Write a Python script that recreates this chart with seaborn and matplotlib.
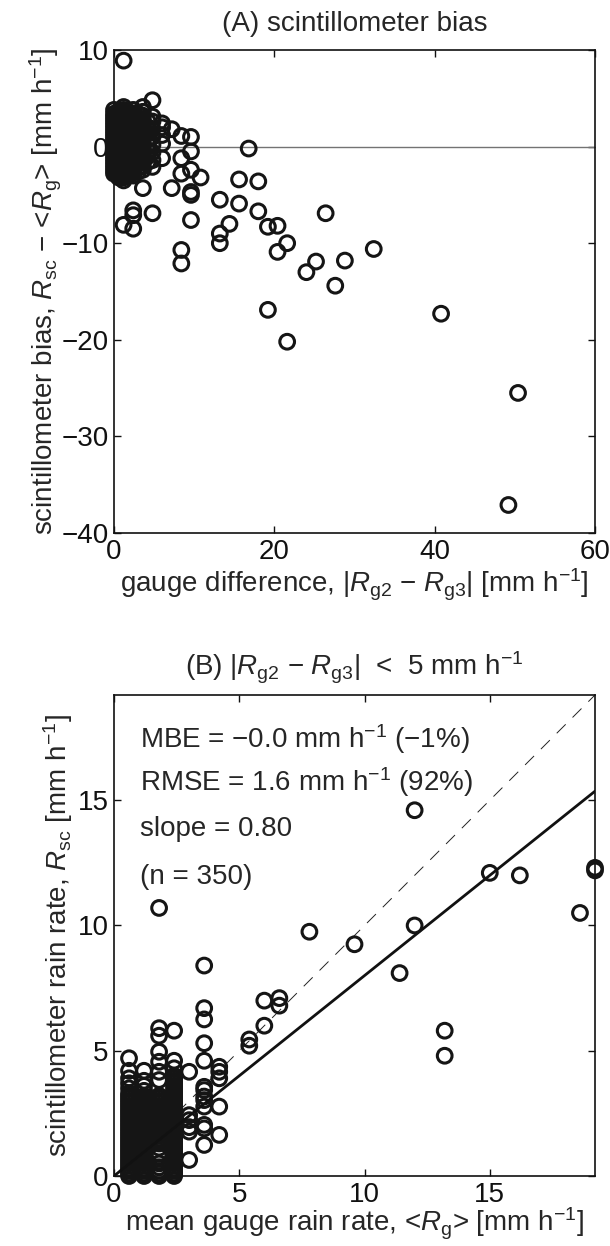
import numpy as np
import pandas as pd
import matplotlib
matplotlib.use("Agg")
import matplotlib.pyplot as plt
import seaborn as sns

# ---------------- data ----------------
# Panel A: gauge difference |Rg2 - Rg3| (quantised, mm/h) and scintillometer bias
bias_x_levels = [0.0, 0.6, 1.2, 1.8, 2.4, 3.0, 3.6, 4.2, 4.8, 6.0, 7.2, 8.4,
                 9.6, 10.8, 13.2, 14.4, 15.6, 16.8, 18.0, 19.2, 20.4, 21.6,
                 24.0, 25.2, 26.4, 27.6, 28.8, 32.4, 40.8, 49.2, 50.4]
bias_y_values = [
    [-2.8, -2.5, -2.2, -1.9, -1.6, -1.3, -1.0, -0.7, -0.4, -0.2, 0.0, 0.2, 0.4,
     0.7, 1.0, 1.3, 1.6, 1.9, 2.2, 2.5, 2.8, 3.1, 3.4, 3.8],
    [-3.2, -2.9, -2.6, -2.3, -2.0, -1.7, -1.4, -1.1, -0.8, -0.5, -0.2, 0.1,
     0.4, 0.7, 1.0, 1.3, 1.6, 1.9, 2.2, 2.5, 2.8, 3.1, 3.4, 3.7],
    [-3.5, -3.2, -2.9, -2.6, -2.3, -2.0, -1.7, -1.4, -1.1, -0.8, -0.5, -0.3,
     -0.1, 0.1, 0.3, 0.5, 0.8, 1.1, 1.4, 1.7, 2.0, 2.3, 2.6, 2.9, 3.2, 3.5,
     3.8, 4.1, 8.9, -8.1],
    [-3.0, -2.7, -2.4, -2.1, -1.8, -1.5, -1.2, -0.9, -0.6, -0.3, 0.0, 0.3,
     0.6, 0.9, 1.2, 1.5, 1.8, 2.1, 2.4, 2.7, 3.0, 3.3, 3.6],
    [-3.0, -2.7, -2.4, -2.1, -1.8, -1.5, -1.2, -0.9, -0.6, -0.3, 0.0, 0.3,
     0.6, 0.9, 1.2, 1.5, 1.8, 2.1, 2.4, 2.7, 3.0, 3.4, 3.8, -6.6, -7.1, -8.5],
    [-2.6, -2.2, -1.8, -1.4, -1.0, -0.6, -0.2, 0.2, 0.6, 1.0, 1.4, 1.8, 2.2,
     2.6, 3.0, 3.4],
    [-2.4, -2.0, -1.6, -1.2, -0.8, -0.4, 0.0, 0.4, 0.8, 1.2, 1.6, 2.0, 2.4,
     2.8, 3.2, 3.6, 4.1, -4.3],
    [-1.6, -1.0, -0.4, 0.2, 0.8, 1.4, 2.0, 2.6],
    [4.8, 3.1, 2.6, 1.8, 1.0, 0.2, -0.6, -1.4, -2.1, -6.9],
    [2.4, 2.0, 1.2, 0.3, -1.2],
    [1.8, -4.3],
    [1.1, -1.2, -2.8, -10.7, -12.1],
    [1.0, -0.5, -2.4, -4.7, -5.0, -7.6],
    [-3.2],
    [-5.5, -9.0, -10.0],
    [-8.0],
    [-3.4, -5.9],
    [-0.2],
    [-3.6, -6.7],
    [-8.3, -16.9],
    [-8.2, -10.9],
    [-10.0, -20.2],
    [-13.0],
    [-11.9],
    [-6.9],
    [-14.4],
    [-11.8],
    [-10.6],
    [-17.3],
    [-37.1],
    [-25.5],
]

# Panel B: mean gauge rain rate <Rg> (quantised) and scintillometer rain rate Rsc
rate_x_levels = [0.6, 1.2, 1.8, 2.4, 3.0, 3.6, 4.2, 5.4, 6.0, 6.6, 7.8, 9.6,
                 11.4, 12.0, 13.2, 15.0, 16.2, 18.6, 19.2]
rate_y_values = [
    [0.0, 0.1, 0.2, 0.3, 0.4, 0.5, 0.6, 0.7, 0.8, 0.9, 1.0, 1.1, 1.2, 1.3,
     1.4, 1.5, 1.6, 1.7, 1.8, 1.9, 2.0, 2.1, 2.2, 2.3, 2.4, 2.5, 2.6, 2.7,
     2.8, 2.9, 3.0, 3.1, 3.2, 3.3, 3.5, 3.7, 3.9, 4.2, 4.7],
    [0.0, 0.1, 0.2, 0.3, 0.4, 0.5, 0.6, 0.7, 0.8, 0.9, 1.0, 1.1, 1.2, 1.3,
     1.4, 1.5, 1.6, 1.7, 1.8, 1.9, 2.0, 2.1, 2.2, 2.3, 2.4, 2.5, 2.6, 2.7,
     2.8, 2.9, 3.0, 3.1, 3.2, 3.4, 3.6, 3.8, 4.2],
    [0.0, 0.1, 0.2, 0.35, 0.5, 0.77, 0.9, 1.13, 1.3, 1.4, 1.5, 1.6, 1.7, 1.8,
     1.9, 2.0, 2.1, 2.2, 2.3, 2.4, 2.5, 2.6, 2.7, 2.8, 2.9, 3.0, 3.1, 3.2,
     3.83, 4.16, 4.56, 4.96, 5.6, 5.9, 10.7],
    [0.0, 0.1, 0.2, 0.3, 0.4, 0.5, 0.6, 0.7, 0.8, 0.9, 1.0, 1.1, 1.2, 1.3,
     1.4, 1.5, 1.6, 1.7, 1.8, 1.9, 2.0, 2.1, 2.2, 2.3, 2.4, 2.5, 2.6, 2.7,
     2.8, 2.9, 3.0, 3.1, 3.2, 3.3, 3.4, 3.5, 3.6, 3.7, 3.8, 3.9, 4.0, 4.3,
     4.6, 5.8],
    [0.64, 1.77, 1.95, 2.23, 2.43, 4.16],
    [1.24, 1.9, 2.04, 2.77, 3.03, 3.17, 3.43, 3.56, 4.6, 5.3, 6.25, 6.7, 8.4],
    [1.64, 2.77, 3.9, 4.16, 4.36],
    [5.2, 5.45],
    [6.0, 7.0],
    [6.8, 7.1],
    [9.75],
    [9.25],
    [8.1],
    [10.0, 14.6],
    [4.8, 5.8],
    [12.1],
    [12.0],
    [10.5],
    [12.2, 12.3],
]

fit_slope = 0.80
stats_lines = [r"MBE = $-$0.0 mm h$^{-1}$ ($-$1%)",
               r"RMSE = 1.6 mm h$^{-1}$ (92%)",
               "slope = 0.80",
               "(n = 350)"]

a_xticks = [0, 20, 40, 60]
a_yticks = [-40, -30, -20, -10, 0, 10]
b_ticks = [0, 5, 10, 15]
b_max = 19.2

# ---------------- build frames ----------------
dfa = pd.DataFrame({
    "diff": [x for x, ys in zip(bias_x_levels, bias_y_values) for _ in ys],
    "bias": [y for ys in bias_y_values for y in ys],
})
dfb = pd.DataFrame({
    "rg": [x for x, ys in zip(rate_x_levels, rate_y_values) for _ in ys],
    "rsc": [y for ys in rate_y_values for y in ys],
})

# ---------------- style ----------------
sns.set_theme(style="ticks")
plt.rcParams["font.family"] = ["Liberation Sans", "DejaVu Sans"]
plt.rcParams["mathtext.fontset"] = "custom"
plt.rcParams["mathtext.rm"] = "Liberation Sans"
plt.rcParams["mathtext.it"] = "Liberation Sans:italic"
plt.rcParams["mathtext.bf"] = "Liberation Sans:bold"
plt.rcParams["axes.unicode_minus"] = True

FS = 20
W, H = 610, 1246
fig = plt.figure(figsize=(W / 100, H / 100), dpi=100)
ax1 = fig.add_axes([114 / W, 1 - 533 / H, 481 / W, 483 / H])
ax2 = fig.add_axes([114 / W, 1 - 1176 / H, 481 / W, 481 / H])

scat_kw = dict(marker="o", s=112, facecolor="none", edgecolor="#151515",
               linewidth=2.2, clip_on=False, zorder=3, legend=False)

# ---- panel A ----
ax1.axhline(0, color="0.45", lw=1.0, zorder=1)
sns.scatterplot(data=dfa, x="diff", y="bias", ax=ax1, **scat_kw)
ax1.set_xlim(a_xticks[0], a_xticks[-1])
ax1.set_ylim(a_yticks[0], a_yticks[-1])
ax1.set_xticks(a_xticks)
ax1.set_yticks(a_yticks)
ax1.set_title("(A) scintillometer bias", fontsize=FS, pad=14)
ax1.set_xlabel(r"gauge difference, |$R_{\rm g2}$ $-$ $R_{\rm g3}$| [mm h$^{-1}$]",
               fontsize=FS, labelpad=2)
ax1.set_ylabel(r"scintillometer bias, $R_{\rm sc}$ $-$ <$R_{\rm g}$> [mm h$^{-1}$]",
               fontsize=FS, labelpad=-2)

# ---- panel B ----
line_x = np.array([0.0, b_max])
sns.lineplot(x=line_x, y=line_x, ax=ax2, color="#222222", lw=0.7,
             dashes=False, zorder=2)
ax2.lines[-1].set_linestyle((0, (13, 10)))
sns.lineplot(x=line_x, y=fit_slope * line_x, ax=ax2, color="#111111", lw=2.0,
             zorder=4)
sns.scatterplot(data=dfb, x="rg", y="rsc", ax=ax2, **scat_kw)
ax2.set_xlim(0, b_max)
ax2.set_ylim(0, b_max)
ax2.set_xticks(b_ticks)
ax2.set_yticks(b_ticks)
ax2.set_title(r"(B) |$R_{\rm g2}$ $-$ $R_{\rm g3}$|  <  5 mm h$^{-1}$",
              fontsize=FS, pad=14)
ax2.set_xlabel(r"mean gauge rain rate, <$R_{\rm g}$> [mm h$^{-1}$]",
               fontsize=FS, labelpad=-1)
ax2.set_ylabel(r"scintillometer rain rate, $R_{\rm sc}$ [mm h$^{-1}$]",
               fontsize=FS, labelpad=2)
for txt, yf in zip(stats_lines, [0.890, 0.800, 0.707, 0.607]):
    ax2.text(0.055, yf, txt, transform=ax2.transAxes, fontsize=FS,
             ha="left", va="baseline", zorder=5)

for ax in (ax1, ax2):
    for sp in ax.spines.values():
        sp.set_visible(True)
        sp.set_linewidth(1.2)
        sp.set_color("#111111")
    ax.tick_params(direction="in", length=5, width=1.0, labelsize=FS,
                   top=True, right=True, pad=4, colors="#111111")

fig.savefig("out.png", dpi=100)
